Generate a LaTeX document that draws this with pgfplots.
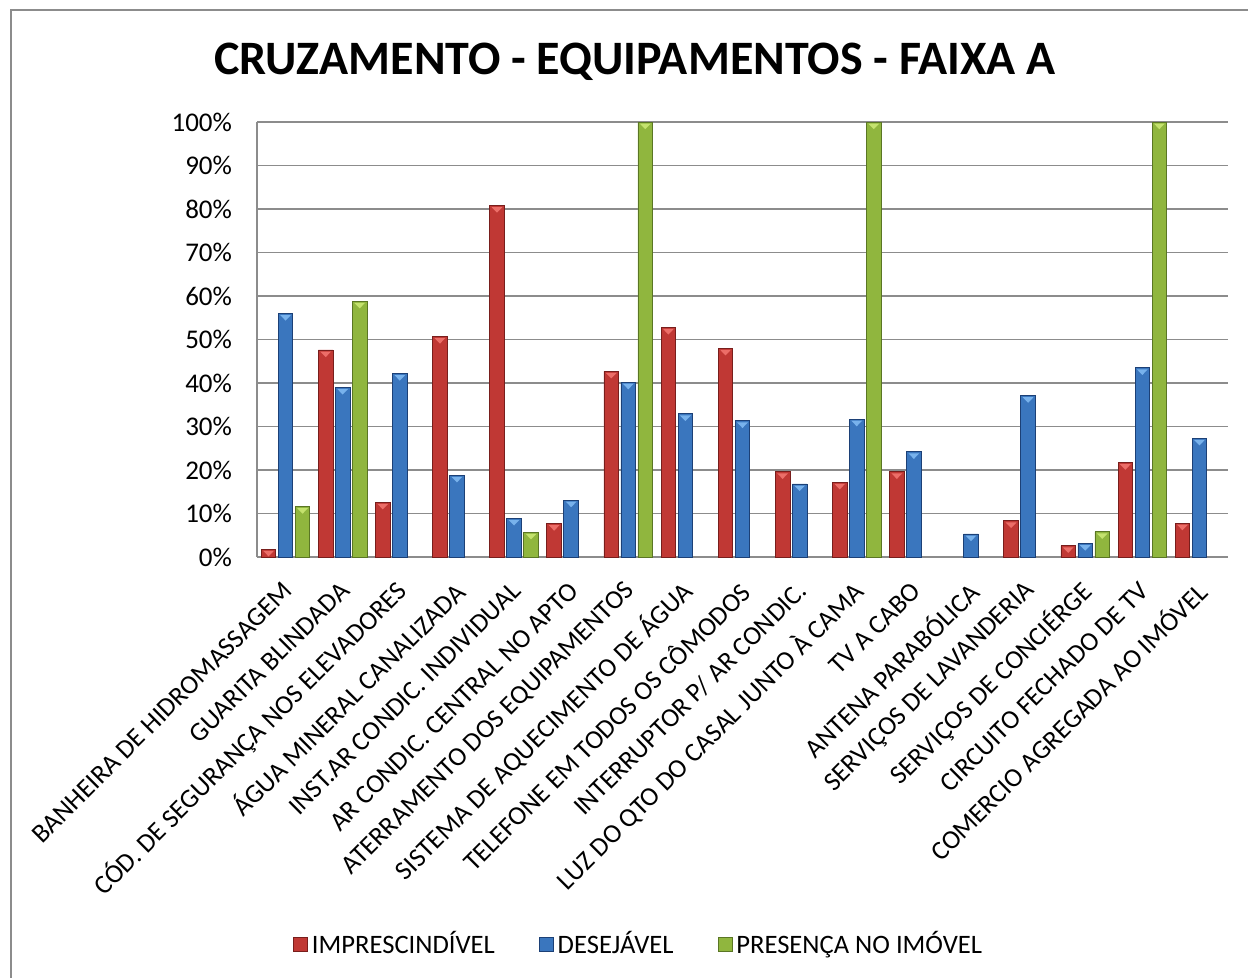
\documentclass[border=0pt]{standalone}
\usepackage{fontspec}
\setmainfont{Carlito}
\usepackage{pgfplots}
\pgfplotsset{compat=1.18}
\usetikzlibrary{shapes.geometric}

\definecolor{rdark}{RGB}{120,30,28}
\definecolor{rfill}{RGB}{192,56,52}
\definecolor{rtri}{RGB}{236,110,104}
\definecolor{bdark}{RGB}{28,64,118}
\definecolor{bfill}{RGB}{58,118,190}
\definecolor{btri}{RGB}{120,178,236}
\definecolor{gdark}{RGB}{90,118,36}
\definecolor{gfill}{RGB}{144,182,62}
\definecolor{gtri}{RGB}{196,226,110}
\definecolor{gridgray}{RGB}{140,140,140}
\definecolor{framegray}{RGB}{140,140,140}

\pgfplotsset{
  tri/.style={nodes near coords={},
    every node near coord/.append style={shape=isosceles triangle, shape border rotate=-90,
      isosceles triangle stretches, minimum width=5.4pt, minimum height=2.8pt,
      inner sep=0pt, fill=#1, draw=none, anchor=north, yshift=-0.6pt}},
}

\begin{document}
\begin{tikzpicture}
% page is 1248x978 px at 0.5pt per px
\useasboundingbox (0,0) rectangle (624pt,-489pt);
\draw[framegray, line width=1.2pt] (5.5pt,-489pt) -- (5.5pt,-5pt) -- (624pt,-5pt);
\node[font=\bfseries\fontsize{24}{29}\selectfont] at (317.5pt,-31pt) {CRUZAMENTO - EQUIPAMENTOS - FAIXA A};

\begin{axis}[
  at={(128.5pt,-278.5pt)}, anchor=south west,
  scale only axis,
  width=485.5pt, height=217.5pt,
  ybar=1.2pt, bar width=7.3pt,
  xmin=-0.5, xmax=16.5,
  ymin=0, ymax=100,
  axis x line*=bottom, axis y line*=left,
  axis line style={gridgray, line width=0.9pt, -},
  major tick length=0pt,
  ymajorgrids,
  grid style={gridgray, line width=0.9pt},
  ytick={0,10,...,100},
  yticklabels={0\%,10\%,20\%,30\%,40\%,50\%,60\%,70\%,80\%,90\%,100\%},
  yticklabel style={font=\fontsize{13.5}{16}\selectfont, xshift=-9pt},
  xtick={0,...,16},
  xticklabels={
    BANHEIRA DE HIDROMASSAGEM,
    GUARITA BLINDADA,
    CÓD. DE SEGURANÇA NOS ELEVADORES,
    ÁGUA MINERAL CANALIZADA,
    INST.AR CONDIC. INDIVIDUAL,
    AR CONDIC. CENTRAL NO APTO,
    ATERRAMENTO DOS EQUIPAMENTOS,
    SISTEMA DE AQUECIMENTO DE ÁGUA,
    TELEFONE EM TODOS OS CÔMODOS,
    INTERRUPTOR P/ AR CONDIC.,
    LUZ DO QTO DO CASAL JUNTO À CAMA,
    TV A CABO,
    ANTENA PARABÓLICA,
    SERVIÇOS DE LAVANDERIA,
    SERVIÇOS DE CONCIÉRGE,
    CIRCUITO FECHADO DE TV,
    COMERCIO AGREGADA AO IMÓVEL},
  xticklabel style={font=\fontsize{13.3}{16}\selectfont, xshift=2pt, yshift=-14pt, rotate=45, anchor=east, inner sep=1pt},
  legend style={at={(rel axis cs:0.394,-0.89)}, anchor=center, draw=none,
    legend columns=3, font=\fontsize{13.3}{16}\selectfont,
    /tikz/every even column/.append style={column sep=20pt}},
  legend image code/.code={\path[#1] (0pt,-3.5pt) rectangle (7pt,3.5pt);},
]
\addplot[draw=rdark, line width=0.4pt, fill=rfill, tri=rtri] coordinates {
  (0,1.8) (1,47.6) (2,12.6) (3,50.7) (4,80.8) (5,7.7) (6,42.7) (7,52.8) (8,48.0)
  (9,19.6) (10,17.2) (11,19.6) (13,8.3) (14,2.6) (15,21.7) (16,7.8)
};
\addlegendentry{IMPRESCINDÍVEL}
\addplot[draw=bdark, line width=0.4pt, fill=bfill, tri=btri] coordinates {
  (0,56.0) (1,39.0) (2,42.2) (3,18.8) (4,8.9) (5,13.1) (6,40.2) (7,32.9) (8,31.3)
  (9,16.8) (10,31.7) (11,24.2) (12,5.3) (13,37.1) (14,3.1) (15,43.5) (16,27.3)
};
\addlegendentry{DESEJÁVEL}
\addplot[draw=gdark, line width=0.4pt, fill=gfill, tri=gtri] coordinates {
  (0,11.6) (1,58.8) (4,5.7) (6,100) (10,100) (14,5.8) (15,100)
};
\addlegendentry{PRESENÇA NO IMÓVEL}
\end{axis}
\end{tikzpicture}
\end{document}
